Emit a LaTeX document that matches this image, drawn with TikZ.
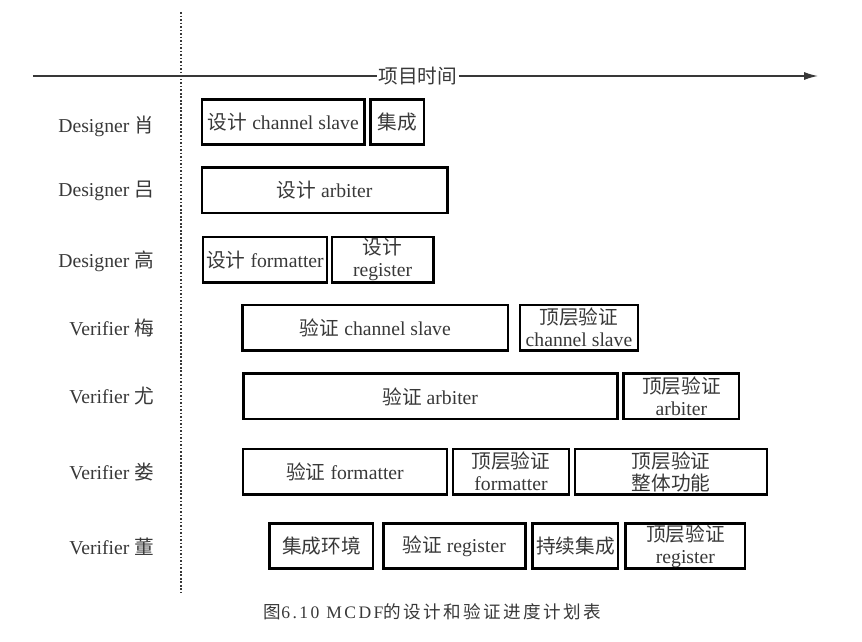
\documentclass[tikz,border=0pt]{standalone}
\usepackage{fontspec}
\setmainfont{Liberation Serif}
\newfontfamily\cjk{Noto Sans CJK SC}
\newfontfamily\capcjk[LetterSpace=14]{Noto Sans CJK SC}
\newfontfamily\caprm[LetterSpace=14]{Liberation Serif}
\usepackage{xcolor}
\usepackage{tikz}
\usetikzlibrary{arrows.meta}
\definecolor{ink}{HTML}{383838}
\tikzset{task/.style={draw=black, line width=1.9pt, minimum height=1.13cm, inner sep=1pt, align=center}}

\begin{document}
\begin{tikzpicture}[every node/.style={font=\fontsize{14}{15.5}\selectfont, text=ink}]
  \useasboundingbox (-4.525, 1.9) rectangle (17.025, -14.15);

  \coordinate (t0) at (-3.7, 0);
  \coordinate (t1) at (15.93, 0);
  \coordinate (d0) at (0, 1.6);
  \coordinate (d1) at (0, -12.9);

  \draw[ink, line width=1.2pt, -{Latex[length=3.5mm, width=2mm]}] (t0) -- node[pos=0.49, fill=white, inner sep=1pt] (time) {\cjk 项目时间} (t1);
  \draw[ink, line width=1.6pt, dash pattern=on 1.2pt off 1.3pt] (d0) -- (d1);

  \node[anchor=east] at (-0.55, -1.25)  (p1) {Designer {\cjk 肖}};
  \node[anchor=east] at (-0.55, -2.86)  (p2) {Designer {\cjk 吕}};
  \node[anchor=east] at (-0.55, -4.63)  (p3) {Designer {\cjk 高}};
  \node[anchor=east] at (-0.55, -6.29)  (p4) {Verifier {\cjk 梅}};
  \node[anchor=east] at (-0.55, -8.01)  (p5) {Verifier {\cjk 尤}};
  \node[anchor=east] at (-0.55, -9.89)  (p6) {Verifier {\cjk 娄}};
  \node[anchor=east] at (-0.55, -11.77) (p7) {Verifier {\cjk 董}};

  \node[task, minimum width=4.07cm] at (2.56, -1.15)  (dcs)  {{\cjk 设计} channel slave};
  \node[task, minimum width=1.33cm] at (5.41, -1.15)  (dint) {\cjk 集成};
  \node[task, minimum width=6.13cm] at (3.59, -2.86)  (darb) {{\cjk 设计} arbiter};
  \node[task, minimum width=3.1cm]  at (2.1, -4.59)   (dfmt) {{\cjk 设计} formatter};
  \node[task, minimum width=2.53cm] at (5.04, -4.59)  (dreg) {{\cjk 设计}\\register};

  \node[task, minimum width=6.63cm] at (4.86, -6.29)  (vcs)  {{\cjk 验证} channel slave};
  \node[task, minimum width=2.95cm] at (9.95, -6.29)  (tcs)  {{\cjk 顶层验证}\\channel slave};
  \node[task, minimum width=9.35cm] at (6.23, -8.01)  (varb) {{\cjk 验证} arbiter};
  \node[task, minimum width=2.88cm] at (12.51, -8.01) (tarb) {{\cjk 顶层验证}\\arbiter};
  \node[task, minimum width=5.1cm]  at (4.1, -9.89)   (vfmt) {{\cjk 验证} formatter};
  \node[task, minimum width=2.9cm]  at (8.25, -9.89)  (tfmt) {{\cjk 顶层验证}\\formatter};
  \node[task, minimum width=4.8cm]  at (12.25, -9.89) (tall) {\cjk 顶层验证\\\cjk 整体功能};
  \node[task, minimum width=2.58cm] at (3.51, -11.75) (venv) {\cjk 集成环境};
  \node[task, minimum width=3.55cm] at (6.83, -11.75) (vreg) {{\cjk 验证} register};
  \node[task, minimum width=2.13cm] at (9.86, -11.75) (vci)  {\cjk 持续集成};
  \node[task, minimum width=2.98cm] at (12.61, -11.75) (treg) {{\cjk 顶层验证}\\register};

  \node[font=\fontsize{12.5}{14}\selectfont] at (6.29, -13.4) (cap) {{\capcjk 图}{\caprm 6.10 MCDF}{\capcjk 的设计和验证进度计划表}};

\end{tikzpicture}
\end{document}
